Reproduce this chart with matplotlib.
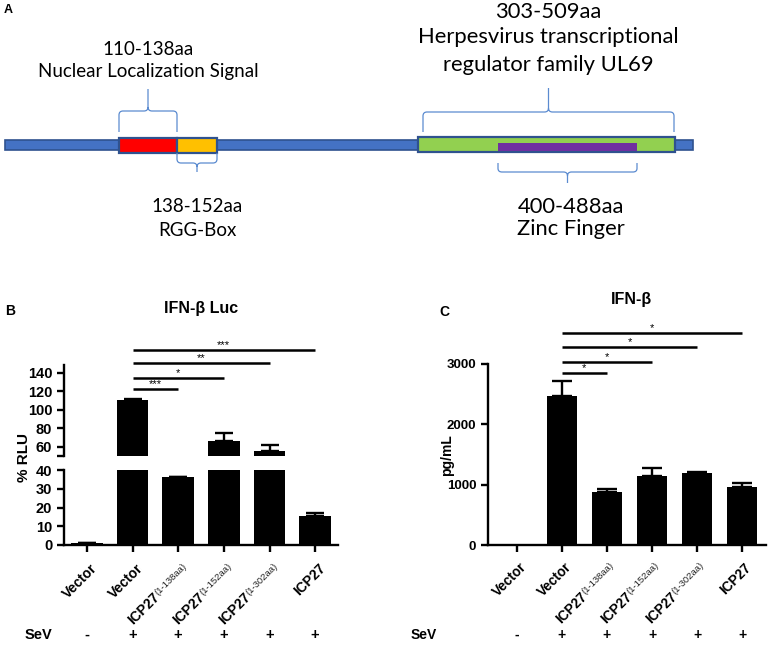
import numpy as np
import matplotlib
matplotlib.use("Agg")
import matplotlib.pyplot as plt
from matplotlib.path import Path
from matplotlib.patches import PathPatch, Rectangle
from matplotlib.transforms import blended_transform_factory, offset_copy

plt.rcParams['font.family'] = ['Liberation Sans', 'DejaVu Sans']

W, H = 768, 645

# ---- panel A: ICP27 domains
protein_len = 512
dom_names = ['Nuclear Localization Signal', 'RGG-Box',
             'Herpesvirus transcriptional\nregulator family UL69', 'Zinc Finger']
dom_start = [110, 138, 303, 400]
dom_end = [138, 152, 509, 488]
dom_colors = ['#ff0000', '#ffc000', '#92d050', '#7030a0']

# ---- panels B / C
groups = ['Vector', 'Vector', 'ICP27', 'ICP27', 'ICP27', 'ICP27']
ranges = ['', '', '1-138aa', '1-152aa', '1-302aa', '']
sev = ['-', '+', '+', '+', '+', '+']

rlu_mean = [0.9, 110.5, 36.2, 66.5, 55.5, 15.6]
rlu_err = [0.3, 1.5, 0.2, 8.5, 6.5, 1.6]
rlu_sig_to = [2, 3, 4, 5]
rlu_sig_y = [122.5, 134.5, 150.5, 164.5]
rlu_sig_txt = ['***', '*', '**', '***']

ifn_mean = [0, 2470, 885, 1145, 1200, 960]
ifn_err = [0, 250, 40, 125, 15, 75]
ifn_sig_to = [2, 3, 4, 5]
ifn_sig_y = [2856, 3028, 3277, 3509]
ifn_sig_txt = ['*', '*', '*', '*']

fig = plt.figure(figsize=(W / 100, H / 100), dpi=100)
renderer = fig.canvas.get_renderer()


def box(x0, y0, x1, y1):
    return [x0 / W, 1 - y1 / H, (x1 - x0) / W, (y1 - y0) / H]


def ftext(x, y, s, **kw):
    fig.text(x / W, 1 - y / H, s, **kw)


# schematic (not to scale) amino-acid -> pixel mapping
aa_ref = [1, 110, 138, 152, 303, 400, 488, 509, 512]
px_ref = [5, 119, 177, 217, 418, 498, 637, 675, 693]
sx = lambda aa: np.interp(aa, aa_ref, px_ref)

axA = fig.add_axes([0, 1 - 290 / H, 1, 290 / H])
axA.set_xlim(0, W)
axA.set_ylim(290, 0)
axA.axis('off')

axA.add_patch(Rectangle((sx(1), 140), sx(protein_len) - sx(1), 9.5,
                        fc='#4472c4', ec='#2f528f', lw=1.2))
tiers = [(138, 15), (138, 15), (137, 15), (143, 8)]
for s, e, c, (y, h) in zip(dom_start, dom_end, dom_colors, tiers):
    axA.add_patch(Rectangle((sx(s), y), sx(e) - sx(s), h, fc=c,
                            ec='#2f528f' if c != '#7030a0' else 'none', lw=1.6))


def brace(x0, x1, yb, yh, yt):
    xc = (x0 + x1) / 2
    d = 1 if yt < yb else -1
    r = min(4, abs(yh - yb) * 0.4)
    verts = [(x0, yb), (x0, yh + d * r), (x0, yh), (x0 + 4, yh),
             (xc - 4, yh), (xc, yh), (xc, yh - d * 4), (xc, yt),
             (xc, yh - d * 4), (xc, yh), (xc + 4, yh), (x1 - 4, yh),
             (x1, yh), (x1, yh + d * r), (x1, yb)]
    codes = [Path.MOVETO, Path.LINETO, Path.CURVE3, Path.CURVE3,
             Path.LINETO, Path.CURVE3, Path.CURVE3, Path.LINETO,
             Path.MOVETO, Path.CURVE3, Path.CURVE3, Path.LINETO,
             Path.CURVE3, Path.CURVE3, Path.LINETO]
    axA.add_patch(PathPatch(Path(verts, codes), fc='none', ec='#5b8bd0', lw=0.9))


brace(sx(110), sx(138), 132, 111, 89)
brace(sx(303) + 5, sx(509) - 1, 132, 112, 88)
brace(sx(138), sx(152), 153, 163, 172)
brace(sx(400), sx(488), 163, 172, 183)

fa = ['Lato', 'DejaVu Sans']
big, small = 15.8, 13.5
ftext(148, 55, f'{dom_start[0]}-{dom_end[0]}aa', ha='center', va='baseline', fontsize=small, family=fa)
ftext(148, 77, dom_names[0], ha='center', va='baseline', fontsize=small, family=fa)
line1, line2 = dom_names[2].split('\n')
ftext(548, 18, f'{dom_start[2]}-{dom_end[2]}aa', ha='center', va='baseline', fontsize=big, family=fa)
ftext(548, 43, line1, ha='center', va='baseline', fontsize=big, family=fa)
ftext(548, 71, line2, ha='center', va='baseline', fontsize=big, family=fa)
ftext(197, 212, f'{dom_start[1]}-{dom_end[1]}aa', ha='center', va='baseline', fontsize=small, family=fa)
ftext(197, 236, dom_names[1], ha='center', va='baseline', fontsize=small, family=fa)
ftext(571, 213, f'{dom_start[3]}-{dom_end[3]}aa', ha='center', va='baseline', fontsize=big, family=fa)
ftext(571, 235, dom_names[3], ha='center', va='baseline', fontsize=big, family=fa)
ftext(8, 10, 'A', ha='center', va='center', fontsize=9, fontweight='bold')

x = np.arange(len(groups))


def style(ax, fs):
    for s in ['top', 'right']:
        ax.spines[s].set_visible(False)
    for s in ['left', 'bottom']:
        ax.spines[s].set_linewidth(1.7)
    ax.tick_params(width=1.7, length=5, labelsize=fs)
    for t in ax.get_yticklabels():
        t.set_fontweight('bold')


def bars(ax, mean, err, width, cap):
    mean = np.array(mean, float)
    err = np.array(err, float)
    ax.bar(x, mean, width=width, color='black')
    m = mean > 0
    ax.errorbar(x[m], mean[m], yerr=[np.zeros(m.sum()), err[m]], fmt='none',
                ecolor='black', elinewidth=1.7, capsize=cap, capthick=1.7)


def xlabels(ax, fs, sfs, dx, dy):
    ax.set_xticks(x)
    ax.set_xticklabels([])
    base = blended_transform_factory(ax.transData, ax.transAxes)
    c = np.cos(np.radians(45))
    for xi, g, r in zip(x, groups, ranges):
        shift = 0
        if r:
            t = ax.text(xi, 0, f'({r})', fontsize=sfs, color='#222222',
                        transform=offset_copy(base, fig=fig, x=dx - 2.5, y=dy + 2.5, units='dots'),
                        ha='right', va='baseline', rotation_mode='anchor')
            shift = t.get_window_extent(renderer).width
            t.set_rotation(45)
        ax.text(xi, 0, g, fontsize=fs, fontweight='bold', rotation=45,
                transform=offset_copy(base, fig=fig, x=dx - shift * c, y=dy - shift * c,
                                      units='dots'),
                ha='right', va='baseline', rotation_mode='anchor')


def sig(ax, to, ys, txt, fs):
    for t, y, s in zip(to, ys, txt):
        ax.plot([1, t], [y, y], color='black', lw=1.8, clip_on=False,
                solid_capstyle='butt')
        ax.text((1 + t) / 2, y, s, ha='center', va='bottom', fontsize=fs)


def sev_row(ax, ypx, fs):
    tr = blended_transform_factory(ax.transData, fig.transFigure)
    for xi, s in zip(x, sev):
        ax.text(xi, 1 - ypx / H, s, transform=tr, ha='center', va='center',
                fontsize=fs, fontweight='bold')


# ---- panel B (broken axis)
axB_lo = fig.add_axes(box(64, 470, 338, 545))
axB_hi = fig.add_axes(box(64, 363.5, 338, 456))
for ax in (axB_lo, axB_hi):
    bars(ax, rlu_mean, rlu_err, 0.7, 6.5)
    ax.set_xlim(-0.5, 5.5)
axB_lo.set_ylim(0, 40)
axB_lo.set_yticks([0, 10, 20, 30, 40])
axB_hi.set_ylim(50, 150)
axB_hi.set_yticks([50, 60, 80, 100, 120, 140])
axB_hi.set_yticklabels(['', '60', '80', '100', '120', '140'])
style(axB_lo, 10.5)
style(axB_hi, 10.5)
xlabels(axB_lo, 10, 6.8, 11, -24)
axB_hi.spines['bottom'].set_visible(False)
axB_hi.set_xticks([])
axB_hi.spines['left'].set_bounds(50, 148)
sig(axB_hi, rlu_sig_to, rlu_sig_y, rlu_sig_txt, 8)
sev_row(axB_lo, 635, 10.5)
ftext(38, 635, 'SeV', ha='center', va='center', fontsize=10.5, fontweight='bold')
ftext(201, 308, 'IFN-β Luc', ha='center', va='center', fontsize=11.5, fontweight='bold')
ftext(10, 311, 'B', ha='center', va='center', fontsize=10, fontweight='bold')
ftext(24, 457, '% RLU', ha='center', va='center', fontsize=11, fontweight='bold',
      rotation=90)

# ---- panel C
axC = fig.add_axes(box(488, 364, 766, 545))
bars(axC, ifn_mean, ifn_err, 0.65, 7)
axC.set_xlim(-0.64, 5.53)
axC.set_ylim(0, 3000)
axC.set_yticks([0, 1000, 2000, 3000])
style(axC, 9.5)
xlabels(axC, 9.8, 6.8, 10, -23)
sig(axC, ifn_sig_to, ifn_sig_y, ifn_sig_txt, 8)
sev_row(axC, 635, 10)
ftext(424, 635, 'SeV', ha='center', va='center', fontsize=10, fontweight='bold')
ftext(631, 300, 'IFN-β', ha='center', va='center', fontsize=11.5, fontweight='bold')
ftext(444, 312, 'C', ha='center', va='center', fontsize=10, fontweight='bold')
ftext(447, 455, 'pg/mL', ha='center', va='center', fontsize=10, fontweight='bold',
      rotation=90)

fig.savefig('out.png', dpi=100)
